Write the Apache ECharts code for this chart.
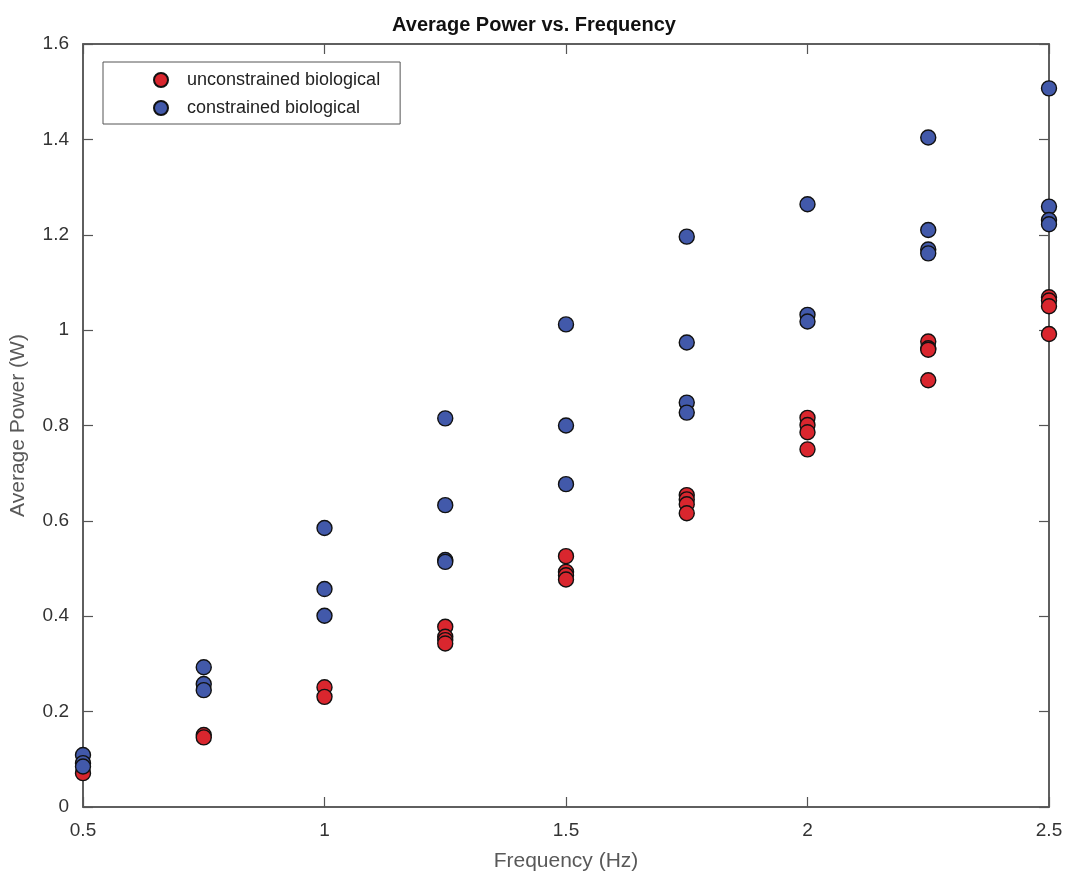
<!DOCTYPE html>
<html>
<head>
<meta charset="utf-8">
<script src="https://cdn.jsdelivr.net/npm/echarts@6/dist/echarts.min.js"></script>
<style>
  html, body { margin: 0; padding: 0; background: #fff; }
  #chart { width: 1068px; height: 877px; }
</style>
</head>
<body>
<div id="chart"></div>
<script>
var xTicks = [0.5, 1, 1.5, 2, 2.5];
var yTicks = [0, 0.2, 0.4, 0.6, 0.8, 1, 1.2, 1.4, 1.6];

// unconstrained biological (red)
var redFreq = [0.5, 0.75, 0.75, 1, 1, 1.25, 1.25, 1.25, 1.25, 1.5, 1.5, 1.5, 1.5,
  1.75, 1.75, 1.75, 1.75, 2, 2, 2, 2, 2.25, 2.25, 2.25, 2.25, 2.5, 2.5, 2.5, 2.5];
var redPower = [0.071, 0.151, 0.146, 0.251, 0.231, 0.378, 0.357, 0.350, 0.343, 0.526, 0.493, 0.486, 0.477,
  0.654, 0.645, 0.635, 0.616, 0.816, 0.801, 0.786, 0.750, 0.976, 0.962, 0.959, 0.895, 1.069, 1.062, 1.050, 0.992];

// constrained biological (blue)
var blueFreq = [0.5, 0.5, 0.5, 0.75, 0.75, 0.75, 1, 1, 1, 1.25, 1.25, 1.25, 1.25, 1.5, 1.5, 1.5,
  1.75, 1.75, 1.75, 1.75, 2, 2, 2, 2.25, 2.25, 2.25, 2.25, 2.5, 2.5, 2.5, 2.5];
var bluePower = [0.109, 0.092, 0.085, 0.293, 0.258, 0.245, 0.585, 0.457, 0.401, 0.815, 0.633, 0.518, 0.514, 1.012, 0.800, 0.677,
  1.196, 0.974, 0.848, 0.827, 1.264, 1.032, 1.018, 1.404, 1.210, 1.169, 1.161, 1.507, 1.259, 1.231, 1.222];

function pairs(xs, ys) {
  return xs.map(function (x, i) { return [x, ys[i]]; });
}

var chart = echarts.init(document.getElementById('chart'));
var axisColor = '#555555';
var font = 'Liberation Sans, Arial, Helvetica, sans-serif';

function frameAxis(extra) {
  var a = {
    type: 'value',
    axisLine: { show: true, onZero: false, lineStyle: { color: axisColor, width: 1.5 } },
    axisTick: { inside: true, length: 10, lineStyle: { color: axisColor, width: 1.2 } },
    splitLine: { show: false }
  };
  for (var k in extra) a[k] = extra[k];
  return a;
}

var option = {
  backgroundColor: '#ffffff',
  animation: false,
  title: {
    text: 'Average Power vs. Frequency',
    left: 'center',
    top: 10,
    textStyle: { fontFamily: font, fontSize: 20, fontWeight: 'bold', color: '#111' }
  },
  legend: {
    orient: 'vertical',
    left: 103,
    top: 62,
    padding: [9, 20, 7, 50],
    itemWidth: 14,
    itemHeight: 14,
    itemGap: 10,
    borderColor: '#555',
    borderWidth: 1,
    backgroundColor: '#fff',
    textStyle: { fontFamily: font, fontSize: 18, color: '#222', padding: [0, 0, 0, 14] },
    data: [
      { name: 'unconstrained biological', icon: 'circle' },
      { name: 'constrained biological', icon: 'circle' }
    ]
  },
  grid: { left: 82, right: 19, top: 44, bottom: 70, show: true, borderColor: axisColor, borderWidth: 1.5 },
  xAxis: [frameAxis({
    min: 0.5, max: 2.5, interval: 0.5,
    name: 'Frequency (Hz)',
    nameLocation: 'middle',
    nameGap: 44,
    nameTextStyle: { fontFamily: font, fontSize: 21, color: '#595959' },
    axisLabel: { fontFamily: font, fontSize: 19, color: '#333', margin: 14,
      formatter: function (v) { return xTicks.indexOf(v) >= 0 ? String(v) : ''; } }
  }), frameAxis({
    position: 'top',
    min: 0.5, max: 2.5, interval: 0.5,
    axisLabel: { show: false }
  })],
  yAxis: [frameAxis({
    min: 0, max: 1.6, interval: 0.2,
    name: 'Average Power (W)',
    nameLocation: 'middle',
    nameGap: 54,
    nameTextStyle: { fontFamily: font, fontSize: 21, color: '#595959' },
    axisLabel: { fontFamily: font, fontSize: 19, color: '#333', margin: 14,
      formatter: function (v) {
        var r = Math.round(v * 10) / 10;
        return yTicks.indexOf(r) >= 0 ? String(r) : '';
      } }
  }), frameAxis({
    position: 'right',
    min: 0, max: 1.6, interval: 0.2,
    axisLabel: { show: false }
  })],
  series: [{
    name: 'unconstrained biological',
    type: 'scatter',
    symbol: 'circle',
    symbolSize: 15,
    itemStyle: { color: '#D9262E', borderColor: '#111', borderWidth: 1.4, opacity: 1 },
    data: pairs(redFreq, redPower)
  }, {
    name: 'constrained biological',
    type: 'scatter',
    symbol: 'circle',
    symbolSize: 15,
    itemStyle: { color: '#4259AA', borderColor: '#111', borderWidth: 1.4, opacity: 1 },
    data: pairs(blueFreq, bluePower)
  }]
};

chart.setOption(option);
</script>
</body>
</html>
